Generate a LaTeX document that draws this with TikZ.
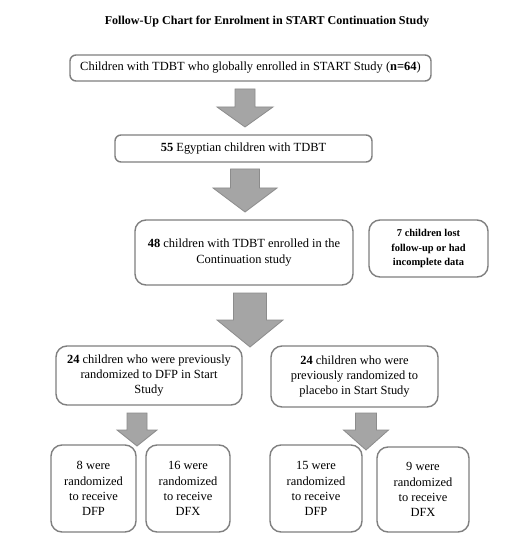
\documentclass[tikz,border=0pt]{standalone}
\usepackage{fontspec}
\setmainfont{Liberation Serif}
\begin{document}
\begin{tikzpicture}[x=1bp,y=-1bp,
  box/.style={draw=boxgray,line width=1.4bp,rounded corners=6bp,align=center,
    font=\fontsize{12.5}{15.2}\selectfont,inner sep=0pt},
  rbox/.style={box,rounded corners=11bp},
  blk/.style={fill=arrfill,draw=arrdraw,line width=0.8bp}]
\definecolor{boxgray}{HTML}{7F7F7F}
\definecolor{arrfill}{HTML}{A5A5A5}
\definecolor{arrdraw}{HTML}{8C8C8C}
\useasboundingbox[fill=white] (0,0) rectangle (520,550);
% cx, top, headY, tipY, shaft half, head half
\newcommand\blkarrow[6]{%
  \draw[blk] (#1-#5,#2) -- (#1+#5,#2) -- (#1+#5,#3) -- (#1+#6,#3) -- (#1,#4)
    -- (#1-#6,#3) -- (#1-#5,#3) -- cycle;}
\node[font=\bfseries\fontsize{12.1}{14}\selectfont] (title) at (267,22)
  {Follow-Up Chart for Enrolment in START Continuation Study};
\node[box,minimum width=361bp,minimum height=26bp] (b1) at (250.5,68)
  {Children with TDBT who globally enrolled in START Study (\textbf{n=64})};
\node[box,minimum width=257bp,minimum height=27bp] (b2) at (243.5,148.5)
  {\textbf{55} Egyptian children with TDBT};
\node[rbox,minimum width=218bp,minimum height=65bp] (b3) at (244,252.5)
  {\textbf{48} children with TDBT enrolled in the\\Continuation study};
\node[rbox,minimum width=119bp,minimum height=57bp,
  font=\bfseries\fontsize{10.5}{15}\selectfont] (lost) at (428.5,248.5)
  {7 children lost\\follow-up or had\\incomplete data};
\node[rbox,minimum width=186bp,minimum height=59bp] (b4l) at (149,375.5)
  {\textbf{24} children who were previously\\randomized to DFP in Start\\Study};
\node[rbox,minimum width=167bp,minimum height=61bp] (b4r) at (354.5,376.5)
  {\textbf{24} children who were\\previously randomized to\\placebo in Start Study};
\node[rbox,minimum width=85bp,minimum height=87bp] (c1) at (93.5,488.5)
  {8 were\\randomized\\to receive\\DFP};
\node[rbox,minimum width=84bp,minimum height=87bp] (c2) at (188,488.5)
  {16 were\\randomized\\to receive\\DFX};
\node[rbox,minimum width=92bp,minimum height=87bp] (c3) at (316,488.5)
  {15 were\\randomized\\to receive\\DFP};
\node[rbox,minimum width=92bp,minimum height=85bp] (c4) at (423,489.5)
  {9 were\\randomized\\to receive\\DFX};
\blkarrow{245}{89}{107}{127}{10}{28}
\blkarrow{245}{169}{188}{212}{14.5}{32}
\blkarrow{250}{293}{320}{347}{16.5}{33}
\blkarrow{137}{413}{430}{446}{10}{20}
\blkarrow{366}{413}{430}{450}{10.5}{22.5}
\end{tikzpicture}
\end{document}
